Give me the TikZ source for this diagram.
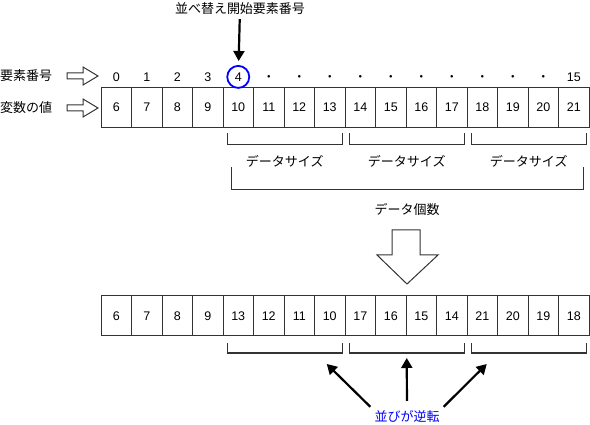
\documentclass[tikz,border=0pt]{standalone}
\usepackage{fontspec}
\setmainfont{Liberation Sans}
\newfontfamily\jp{Noto Sans CJK JP}
\usetikzlibrary{positioning,arrows.meta}

\tikzset{
  cell/.style={draw=black!80, line width=1pt, minimum width=30.5pt, minimum height=40pt,
    inner sep=0pt, outer sep=0pt, font=\fontsize{12.5}{14}\selectfont},
  num/.style={inner sep=0pt, text height=8.8pt, text depth=0pt, font=\fontsize{12.5}{14}\selectfont},
  lbl/.style={inner sep=0pt, font=\jp\fontsize{13}{15}\selectfont},
  bracket/.style={draw=black!80, line width=1pt},
  hollow/.style={draw=black!80, line width=1pt, fill=white},
  ptr/.style={line width=2.2pt, -{Triangle[length=10pt, width=11pt]}},
}

\begin{document}
\begin{tikzpicture}[x=1pt, y=-1pt]
  \useasboundingbox (0,0) rectangle (590,425);

  % values before sorting
  \foreach \v [count=\i from 0] in {6,...,21}
    \node[cell] (t\i) at (116.25+30.5*\i, 107.5) {\v};

  % element numbers
  \foreach \v [count=\i from 0] in {0,1,2,3,4,{\jp ・},{\jp ・},{\jp ・},{\jp ・},{\jp ・},{\jp ・},{\jp ・},{\jp ・},{\jp ・},{\jp ・},15}
    \node[num, above=6pt of t\i] (n\i) {\v};

  \node[draw=blue, circle, line width=1.8pt, minimum size=22pt, inner sep=0pt] (start) at (n4) {};
  \node[lbl] (title) at (240,9) {並べ替え開始要素番号};
  \draw[ptr, shorten <=4pt, shorten >=4pt] (title) -- (start);

  \node[lbl, anchor=west] (idxlbl) at (0,76) {要素番号};
  \node[lbl, anchor=west] (vallbl) at (0,108) {変数の値};

  % hollow arrows
  \foreach \y in {76,108}
    \draw[hollow, shift={(0,\y)}] (67,-3) -- (83,-3) -- (83,-9) -- (98,0) -- (83,9) -- (83,3) -- (67,3) -- cycle;

  % data size brackets
  \foreach \a/\b/\k in {4/7/1, 8/11/2, 12/15/3} {
    \draw[bracket] ([shift={(4,6)}]t\a.south west) -- ++(0,11)
      -- ([shift={(-2.5,17)}]t\b.south east) coordinate[midway] (m\k) -- ++(0,-11);
    \node[lbl, below=11pt of m\k] (size\k) {データサイズ};
  }

  % data count bracket
  \draw[bracket] ([shift={(8,40)}]t4.south west) -- ++(0,22.5)
    -- ([shift={(-6,62.5)}]t15.south east) coordinate[midway] (mall) -- ++(0,-22.5);
  \node[lbl, below=13.5pt of mall] (count) {データ個数};

  % big arrow
  \draw[hollow] (392,230) -- (420,230) -- (420,255) -- (438,255) -- (407,284)
    -- (377,255) -- (392,255) -- cycle;

  % values after sorting
  \foreach \v [count=\i from 0] in {6,7,8,9,13,12,11,10,17,16,15,14,21,20,19,18}
    \node[cell] (b\i) at (116.25+30.5*\i, 316) {\v};

  \foreach \a/\b/\k in {4/7/1, 8/11/2, 12/15/3}
    \draw[bracket] ([shift={(4,7)}]b\a.south west) -- ++(0,10)
      -- ([shift={(-2.5,17)}]b\b.south east) coordinate[midway] (r\k) -- ++(0,-10);

  \node[lbl, text=blue] (rev) at (407,417) {並びが逆転};
  \coordinate (tip1) at ([shift={(42,11)}]r1);
  \coordinate (tip2) at ([shift={(0,5)}]r2);
  \coordinate (tip3) at ([shift={(-42,11)}]r3);

  \draw[ptr] ([shift={(-4,-4)}]rev.north west) -- (tip1);
  \draw[ptr, shorten <=10pt] (rev.north) -- (tip2);
  \draw[ptr] ([shift={(4,-4)}]rev.north east) -- (tip3);
\end{tikzpicture}
\end{document}
